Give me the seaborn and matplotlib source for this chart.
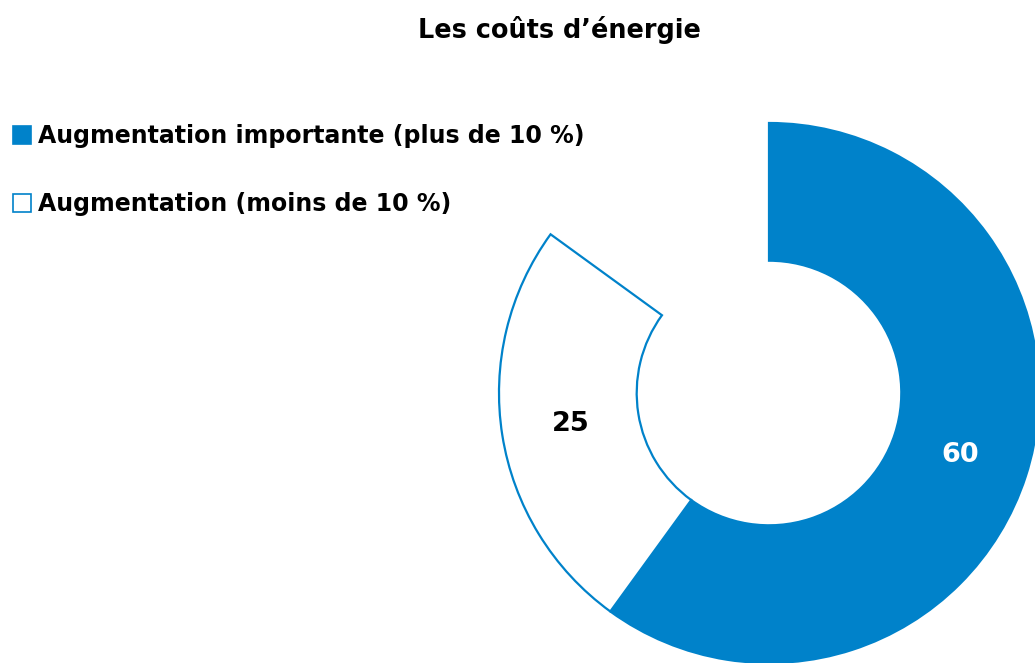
import matplotlib
matplotlib.use("Agg")
import matplotlib.pyplot as plt
import seaborn as sns
from matplotlib.patches import Patch
import numpy as np

categories = ["Augmentation importante (plus de 10 %)", "Augmentation (moins de 10 %)", "Autre"]
values = [60, 25, 15]
labels_shown = ["60", "25", ""]
title = "Les coûts d’énergie"

blue = "#0082CA"

sns.set_theme(style="white")
plt.rcParams['font.family'] = ['DejaVu Sans']

fig = plt.figure(figsize=(10.35, 6.63), dpi=100)
W, H = 1035, 663
cx, cy, r = 769, 393, 270
ax = fig.add_axes([(cx - r) / W, (H - cy - r) / H, 2 * r / W, 2 * r / H])

wedges, _ = ax.pie(values, startangle=90, counterclock=False, radius=1,
                   colors=[blue, "white", "none"],
                   wedgeprops=dict(width=0.51, linewidth=1.6))
wedges[0].set_edgecolor(blue)
wedges[1].set_edgecolor(blue)
wedges[2].set_edgecolor("none")
ax.set_xlim(-1, 1)
ax.set_ylim(-1, 1)
ax.set_aspect("equal")
ax.axis("off")

text_colors = ["white", "black", "black"]
for w, lab, tc in zip(wedges, labels_shown, text_colors):
    if not lab:
        continue
    ang = np.deg2rad((w.theta1 + w.theta2) / 2)
    rr = 0.745
    ax.text(rr * np.cos(ang), rr * np.sin(ang), lab, ha="center", va="center",
            fontsize=19.5, fontweight="bold", color=tc)

fig.text(559 / W, 1 - 30 / H, title, ha="center", va="center",
         fontsize=18.4, fontweight="bold", color="black")

handles = [Patch(facecolor=blue, edgecolor=blue, linewidth=1.2),
           Patch(facecolor="white", edgecolor=blue, linewidth=1.2)]
fig.legend(handles, categories[:2], loc="upper left", bbox_to_anchor=(13 / W, 1 - 124 / H),
           frameon=False, prop=dict(weight="bold", size=17), labelcolor="black",
           handlelength=0.78, handleheight=0.78, handletextpad=0.3,
           labelspacing=1.88, borderaxespad=0, borderpad=0)

fig.savefig("out.png", dpi=100)
